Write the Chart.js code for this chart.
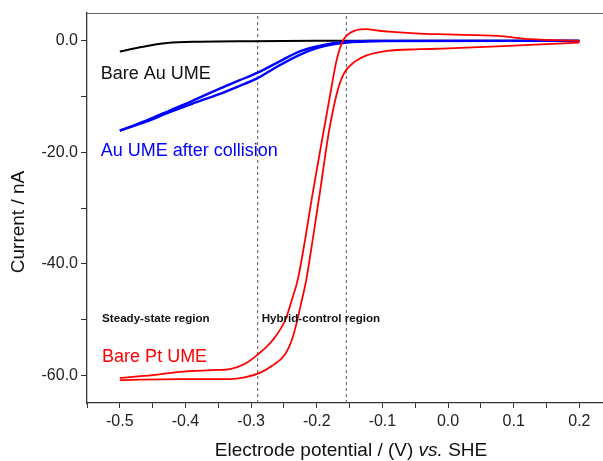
<!DOCTYPE html>
<html>
<head>
<meta charset="utf-8">
<script src="https://cdn.jsdelivr.net/npm/chart.js@4.4.1/dist/chart.umd.min.js"></script>
<style>
  body { margin: 0; background: #fff; }
  #wrap { width: 603px; height: 461px; }
</style>
</head>
<body>
<div id="wrap"><canvas id="cvChart" width="603" height="461"></canvas></div>
<script>
// Potential (V vs. SHE) and current (nA)

// Bare Pt UME, branch that overshoots above zero
const ptUpperE = [-0.5, -0.45, -0.409, -0.36, -0.332, -0.31, -0.291, -0.267, -0.248, -0.238, -0.229, -0.2175, -0.208, -0.198, -0.188, -0.181, -0.175, -0.17, -0.165, -0.159, -0.152, -0.143, -0.133, -0.124, -0.11, -0.09, -0.043, 0.0, 0.075, 0.125, 0.2];
const ptUpperI = [-60.5, -60.0, -59.4, -59.1, -58.9, -58.0, -56.4, -53.7, -50.1, -46.5, -42.9, -35.5, -28.6, -21.8, -15.2, -10.6, -6.6, -3.6, -1.4, 0.3, 1.2, 1.8, 2.05, 2.1, 1.9, 1.65, 1.3, 1.15, 0.9, 0.3, 0.0];

// Bare Pt UME, other branch
const ptLowerE = [-0.5, -0.409, -0.332, -0.31, -0.287, -0.268, -0.249, -0.238, -0.231, -0.224, -0.216, -0.207, -0.197, -0.1815, -0.173, -0.166, -0.16, -0.153, -0.145, -0.135, -0.124, -0.093, -0.043, 0.0, 0.075, 0.2];
const ptLowerI = [-60.9, -60.7, -60.7, -60.4, -59.6, -58.3, -56.4, -53.7, -50.8, -47.2, -42.9, -36.3, -28.6, -16.3, -11.2, -8.0, -6.2, -4.9, -4.0, -3.2, -2.6, -1.8, -1.5, -1.35, -1.0, -0.3];

// Au UME after collision (two branches almost on top of each other)
const auColE = [-0.5, -0.46, -0.424, -0.39, -0.352, -0.32, -0.29, -0.26, -0.226, -0.2, -0.175, -0.15, -0.12, -0.1, 0.2];
const auColUpperI = [-16.1, -14.3, -12.5, -10.8, -8.8, -7.2, -5.7, -3.9, -1.9, -1.0, -0.4, -0.1, -0.03, 0, 0];
const auColLowerI = [-16.1, -14.5, -12.8, -11.3, -9.7, -8.2, -6.7, -4.6, -2.5, -1.3, -0.6, -0.25, -0.1, -0.05, 0];

// Bare Au UME
const auBareE = [-0.5, -0.467, -0.428, -0.378, -0.3, -0.2, 0.2];
const auBareI = [-1.9, -1.1, -0.4, -0.15, -0.05, 0, 0];

// region dividers (dotted vertical lines)
const dividerE = [-0.29, -0.155];

// axis ticks
const xMajorTicks = [-0.5, -0.4, -0.3, -0.2, -0.1, 0.0, 0.1, 0.2];
const xMinorTicks = [-0.55, -0.45, -0.35, -0.25, -0.15, -0.05, 0.05, 0.15];
const yMajorTicks = [-60, -40, -20, 0];
const yMinorTicks = [-50, -30, -10];

const FONT = "'Liberation Sans', Arial, sans-serif";
const xRange = [-0.55, 0.236];
const yRange = [-65, 5];

function pts(xs, ys) {
  return xs.map((x, i) => ({ x: x, y: ys[i] }));
}

function curve(label, xs, ys, color, width, order) {
  return {
    label: label,
    data: pts(xs, ys),
    borderColor: color,
    borderWidth: width,
    pointRadius: 0,
    cubicInterpolationMode: "monotone",
    fill: false,
    order: order,
  };
}

function isMajor(v, list) {
  return list.some((m) => Math.abs(m - v) < 1e-6);
}

const datasets = [
  curve("Bare Pt UME", ptUpperE, ptUpperI, "#ff0000", 1.8, 0),
  curve("Bare Pt UME (return)", ptLowerE, ptLowerI, "#ff0000", 1.8, 0),
  curve("Au UME after collision", auColE, auColUpperI, "#0000ff", 2.4, 1),
  curve("Au UME after collision (return)", auColE, auColLowerI, "#0000ff", 2.4, 1),
  curve("Bare Au UME", auBareE, auBareI, "#000000", 2, 2),
];

dividerE.forEach((e) => {
  datasets.push({
    label: "divider",
    data: [{ x: e, y: yRange[0] }, { x: e, y: yRange[1] }],
    borderColor: "#555555",
    borderWidth: 1,
    borderDash: [3, 3],
    pointRadius: 0,
    order: 3,
  });
});

// frame top line, axis titles and text labels in the plot
const decorations = {
  id: "decorations",
  afterDatasetsDraw(chart) {
    const { ctx, chartArea, scales } = chart;
    const sx = scales.x, sy = scales.y;

    ctx.save();
    ctx.strokeStyle = "#666666";
    ctx.lineWidth = 1;
    ctx.beginPath();
    ctx.moveTo(chartArea.left, chartArea.top + 0.5);
    ctx.lineTo(chartArea.right, chartArea.top + 0.5);
    ctx.stroke();

    // curve names
    ctx.textAlign = "left";
    ctx.textBaseline = "alphabetic";
    ctx.font = "18px " + FONT;
    ctx.fillStyle = "#111111";
    ctx.fillText("Bare Au UME", sx.getPixelForValue(-0.529), sy.getPixelForValue(-6.8));
    ctx.fillStyle = "#0000ff";
    ctx.fillText("Au UME after collision", sx.getPixelForValue(-0.529), sy.getPixelForValue(-20.6));
    ctx.fillStyle = "#ff0000";
    ctx.fillText("Bare Pt UME", sx.getPixelForValue(-0.527), sy.getPixelForValue(-57.6));

    // region names
    ctx.font = "bold 11.6px " + FONT;
    ctx.fillStyle = "#111111";
    ctx.textBaseline = "middle";
    ctx.fillText("Steady-state region", sx.getPixelForValue(-0.527), sy.getPixelForValue(-49.9));
    ctx.fillText("Hybrid-control region", sx.getPixelForValue(-0.284), sy.getPixelForValue(-49.9));

    // y title
    ctx.font = "19px " + FONT;
    ctx.fillStyle = "#111111";
    ctx.save();
    ctx.translate(19, 222);
    ctx.rotate(-Math.PI / 2);
    ctx.textAlign = "center";
    ctx.fillText("Current / nA", 0, 0);
    ctx.restore();

    // x title, "vs." in italics
    const parts = [
      ["Electrode potential / (V) ", "19px " + FONT],
      ["vs.", "italic 19px " + FONT],
      [" SHE", "19px " + FONT],
    ];
    let total = 0;
    parts.forEach((p) => { ctx.font = p[1]; total += ctx.measureText(p[0]).width; });
    let x = 351 - total / 2;
    ctx.textAlign = "left";
    ctx.textBaseline = "alphabetic";
    parts.forEach((p) => {
      ctx.font = p[1];
      ctx.fillText(p[0], x, 456);
      x += ctx.measureText(p[0]).width;
    });
    ctx.restore();
  },
};

new Chart(document.getElementById("cvChart"), {
  type: "line",
  data: { datasets: datasets },
  options: {
    responsive: false,
    animation: false,
    devicePixelRatio: 1,
    layout: { padding: { top: 13, right: 0, left: 0, bottom: 0 } },
    plugins: {
      legend: { display: false },
      tooltip: { enabled: false },
    },
    scales: {
      x: {
        type: "linear",
        min: xRange[0],
        max: xRange[1],
        afterFit: (s) => { s.height = 58; },
        afterBuildTicks: (s) => {
          s.ticks = xMajorTicks.concat(xMinorTicks).sort((a, b) => a - b).map((v) => ({ value: v }));
        },
        ticks: {
          autoSkip: false,
          maxRotation: 0,
          padding: 4,
          color: "#222222",
          font: { family: FONT, size: 16 },
          callback: (v) => (isMajor(v, xMajorTicks) ? v.toFixed(1) : ""),
        },
        grid: { drawOnChartArea: false, tickLength: 5, tickColor: "#333333" },
        border: { color: "#333333", width: 1.3 },
      },
      y: {
        type: "linear",
        min: yRange[0],
        max: yRange[1],
        afterFit: (s) => { s.width = 87; },
        afterBuildTicks: (s) => {
          s.ticks = yMajorTicks.concat(yMinorTicks).sort((a, b) => a - b).map((v) => ({ value: v }));
        },
        ticks: {
          autoSkip: false,
          padding: 3,
          color: "#222222",
          font: { family: FONT, size: 16 },
          callback: (v) => (isMajor(v, yMajorTicks) ? v.toFixed(1) : ""),
        },
        grid: { drawOnChartArea: false, tickLength: 6, tickColor: "#333333" },
        border: { color: "#333333", width: 1.3 },
      },
    },
  },
  plugins: [decorations],
});
</script>
</body>
</html>
